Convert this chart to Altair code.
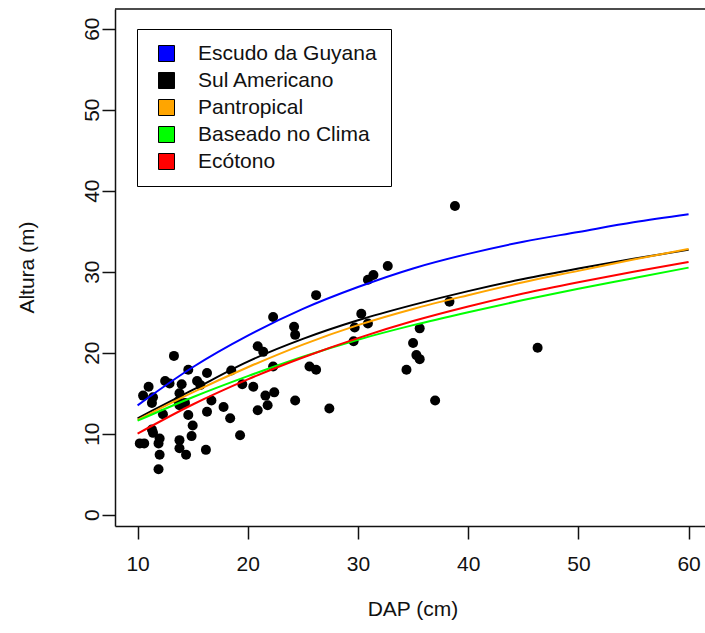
import altair as alt
import pandas as pd

# ---- observed trees (DAP cm, height m) ----
dap_obs = [10.2, 10.6, 10.5, 11.0, 11.4, 11.3, 11.3, 11.4, 12.0, 11.9, 12.0, 11.9,
           12.3, 12.5, 12.9, 13.3, 13.8, 13.7, 13.8, 14.3, 13.8, 13.8, 14.4, 14.0,
           14.6, 14.6, 14.9, 15.0, 15.4, 15.7, 16.3, 16.3, 16.7, 16.2, 17.8, 18.4,
           18.5, 19.3, 19.5, 20.5, 20.9, 21.4, 21.6, 20.9, 21.8, 22.3, 22.4, 22.3,
           24.2, 24.3, 24.3, 26.2, 25.6, 26.2, 27.4, 29.6, 29.7, 30.3, 30.9, 30.9,
           31.4, 32.7, 34.4, 35.0, 35.6, 35.3, 35.6, 37.0, 38.3, 38.8, 46.3]
alt_obs = [8.8, 8.8, 14.7, 15.8, 14.5, 13.8, 10.5, 10.1, 9.4, 8.8, 7.4, 5.6,
           12.4, 16.5, 16.2, 19.6, 15.0, 14.0, 13.5, 13.8, 9.2, 8.2, 7.4, 16.1,
           17.9, 12.3, 9.7, 11.0, 16.5, 16.0, 17.5, 12.7, 14.1, 8.0, 13.3, 11.9,
           17.8, 9.8, 16.1, 15.8, 20.8, 20.1, 14.7, 12.9, 13.5, 18.3, 15.1, 24.4,
           23.2, 22.2, 14.1, 27.1, 18.3, 17.9, 13.1, 21.4, 23.1, 24.8, 23.6, 29.0,
           29.6, 30.7, 17.9, 21.2, 23.0, 19.7, 19.2, 14.1, 26.3, 38.1, 20.6]

# ---- fitted curves ----
dap_grid = [10, 15, 20, 25, 30, 35, 40, 45, 50, 55, 60]
escudo = [13.5, 18.2, 22.1, 25.4, 28.1, 30.4, 32.2, 33.7, 34.9, 36.1, 37.1]
sul_americano = [11.9, 15.4, 18.9, 21.7, 24.0, 25.9, 27.6, 29.1, 30.4, 31.6, 32.7]
pantropical = [11.7, 15.1, 18.2, 21.0, 23.4, 25.4, 27.1, 28.7, 30.1, 31.5, 32.8]
clima = [11.6, 14.5, 17.1, 19.5, 21.6, 23.4, 25.0, 26.5, 27.9, 29.2, 30.5]
ecotono = [10.0, 13.6, 16.7, 19.4, 21.8, 23.9, 25.7, 27.3, 28.7, 30.0, 31.2]

names = ["Escudo da Guyana", "Sul Americano", "Pantropical", "Baseado no Clima", "Ecótono"]
colors = ["#0000FF", "#000000", "#FFA500", "#00FF00", "#FF0000"]
series = [escudo, sul_americano, pantropical, clima, ecotono]

FONT = "Liberation Sans"
W, H = 590, 517

xs = alt.Scale(domain=[7.95, 61.49], nice=False, zero=False)
ys = alt.Scale(domain=[-1.4, 62.43], nice=False, zero=False)

xaxis = alt.Axis(values=[10, 20, 30, 40, 50, 60], grid=False, tickSize=13,
                 tickWidth=1.5, tickColor="#111", domainColor="#111", domainWidth=1.5,
                 labelFontSize=21, labelFont=FONT, labelColor="#111",
                 labelBaseline="alphabetic", labelPadding=31, labelFlush=False,
                 labelOverlap=False, title="DAP (cm)", titleFont=FONT,
                 titleFontSize=21, titleFontWeight="normal", titleColor="#111",
                 titleX=297.5, titleY=89, titleBaseline="alphabetic", titleAlign="center")
yaxis = alt.Axis(values=[0, 10, 20, 30, 40, 50, 60], grid=False, tickSize=13,
                 tickWidth=1.5, tickColor="#111", domainColor="#111", domainWidth=1.5,
                 labelFontSize=21, labelFont=FONT, labelColor="#111", labelAngle=270,
                 labelAlign="center", labelBaseline="alphabetic", labelPadding=4,
                 labelOverlap=False, labelFlush=False,
                 title="Altura (m)", titleFont=FONT, titleFontSize=21,
                 titleFontWeight="normal", titleColor="#111", titleAngle=270,
                 titleX=-82, titleY=258, titleAlign="center", titleBaseline="alphabetic")


def xy():
    return dict(x=alt.X("D:Q", scale=xs, axis=xaxis), y=alt.Y("H:Q", scale=ys, axis=yaxis))


pts = pd.DataFrame({"D": dap_obs, "H": alt_obs})
points = alt.Chart(pts).mark_circle(size=100, color="black", opacity=1).encode(**xy())

lines = []
for nm, col, vals in zip(names, colors, series):
    df = pd.DataFrame({"D": dap_grid, "H": vals})
    lines.append(
        alt.Chart(df).mark_line(color=col, strokeWidth=2, interpolate="monotone").encode(**xy())
    )

legend_layer = alt.Chart(alt.Data(values=[{"cat": n} for n in names])).mark_square(
    filled=True, opacity=1, stroke="black", strokeWidth=1
).encode(
    **xy(),
    fill=alt.Fill("cat:N", scale=alt.Scale(domain=names, range=colors),
                  legend=alt.Legend(title=None, orient="none", legendX=22, legendY=20,
                                    strokeColor="black", fillColor="white", padding=14,
                                    symbolType="square", symbolSize=256,
                                    symbolStrokeColor="black", symbolStrokeWidth=1,
                                    symbolOffset=5, labelFontSize=21, labelFont=FONT,
                                    labelColor="#111", labelOffset=21, rowPadding=5,
                                    labelLimit=400)),
)

top_border = alt.Chart(alt.Data(values=[{}])).mark_rule(color="#111", strokeWidth=1.5).encode(
    x=alt.value(0), x2=alt.value(W), y=alt.value(0)
)

chart = alt.layer(points, *lines, legend_layer, top_border).properties(
    width=W, height=H,
    padding={"left": 115, "top": 9, "right": 0, "bottom": 107},
    autosize=alt.AutoSizeParams(type="none"),
    background="white",
).configure_view(stroke=None)

chart.save("out.html", embed_options={"renderer": "svg", "actions": False})
